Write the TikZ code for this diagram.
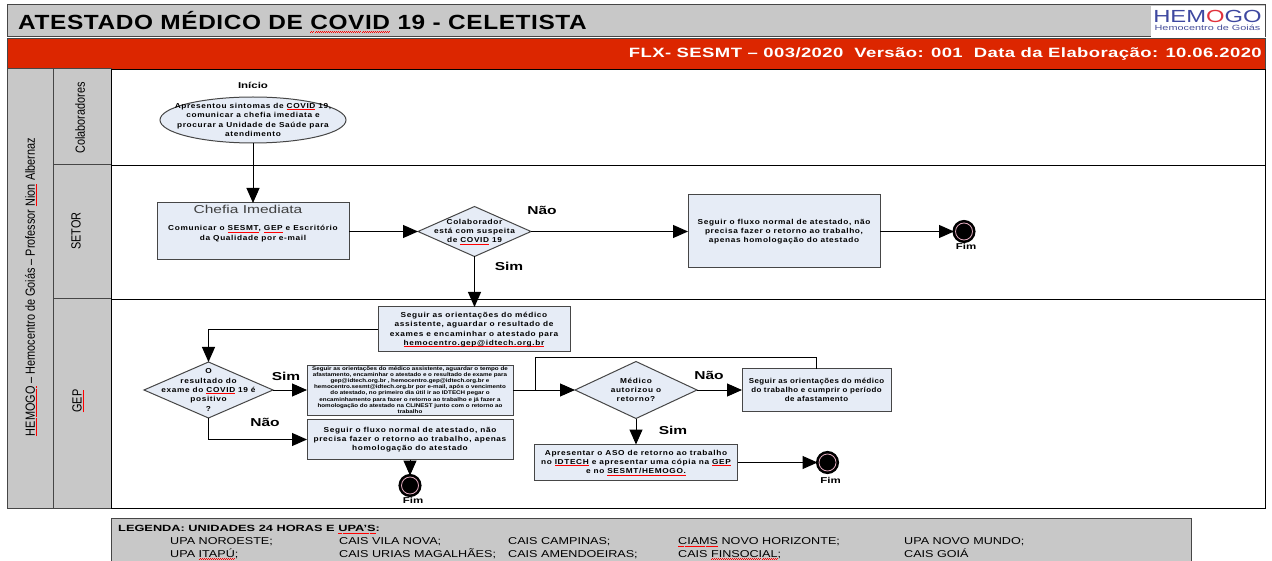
\documentclass[tikz,border=0pt]{standalone}
\usepackage{xcolor}
\usepackage{fontspec}
\setmainfont{Liberation Sans}
\newfontfamily\widefont[LetterSpace=9, FakeStretch=1.15]{Liberation Sans}
\newfontfamily\snugfont[LetterSpace=6, FakeStretch=1.1]{Liberation Sans}
\newfontfamily\notefont[FakeStretch=1.18]{Liberation Sans}
\newfontfamily\headfont[LetterSpace=3, FakeStretch=1.19]{Liberation Sans}
\newfontfamily\redfont[LetterSpace=3, FakeStretch=1.37]{Liberation Sans}
\newfontfamily\narrowfont[FakeStretch=0.82]{Liberation Sans}
\newfontfamily\legendfont[FakeStretch=1.26]{Liberation Sans}
\newfontfamily\legendhead[FakeStretch=1.42]{Liberation Sans}
\newfontfamily\labelfont[FakeStretch=1.35]{Liberation Sans}
\newfontfamily\logofont[FakeStretch=1.36]{Liberation Sans}
\newfontfamily\logosmall[FakeStretch=1.45]{Liberation Sans}
\definecolor{lanegray}{RGB}{200, 200, 200}
\definecolor{framegray}{RGB}{70, 70, 70}
\definecolor{headred}{RGB}{220, 38, 0}
\definecolor{boxblue}{RGB}{230, 236, 246}
\definecolor{logoblue}{RGB}{62, 72, 160}
\definecolor{logored}{RGB}{225, 50, 60}
\definecolor{ringpink}{RGB}{225, 170, 190}
\usetikzlibrary{shapes.geometric, arrows.meta, positioning}
\newsavebox{\spellbox}
\newcommand{\spellline}[1]{\sbox{\spellbox}{#1}\rlap{\textcolor{red}{\rule[-1.4pt]{\wd\spellbox}{0.6pt}}}\usebox{\spellbox}}
\newcommand{\spellwave}[1]{\sbox{\spellbox}{#1}\rlap{\textcolor{red}{\hbox to \wd\spellbox{\xleaders\hbox{\rule[-2.2pt]{1pt}{0.5pt}\rule[-1.6pt]{1pt}{0.5pt}}\hfill}}}\usebox{\spellbox}}
\begin{document}
\begin{tikzpicture}[
    x=1pt, y=-1pt,
    band/.style={rectangle, draw=framegray, fill=lanegray, line width=1pt, outer sep=0pt, inner sep=0pt},
    lanetext/.style={rotate=90, font=\narrowfont\fontsize{13.3}{15}\selectfont},
    lanebox/.style={rectangle, draw=black, line width=0.8pt, outer sep=0pt, inner sep=0pt},
    process/.style={rectangle, draw=framegray, fill=boxblue, line width=1pt, outer sep=0pt, inner sep=0pt, align=center, font=\widefont\bfseries\fontsize{7.2}{9.3}\selectfont},
    decision/.style={diamond, draw=framegray, fill=boxblue, line width=1pt, outer sep=0pt, inner sep=0pt},
    boxlabel/.style={align=center, font=\widefont\bfseries\fontsize{7.2}{9.3}\selectfont},
    choice/.style={font=\labelfont\bfseries\fontsize{11.5}{13}\selectfont},
    endpoint/.style={circle, draw=black, double=ringpink, double distance=0.8pt, line width=2.6pt, fill=black, minimum size=17pt, inner sep=0pt, outer sep=1.5pt},
    endtext/.style={font=\labelfont\bfseries\fontsize{8.5}{10}\selectfont, inner sep=0pt},
    legendtext/.style={anchor=base west, inner sep=0pt, font=\legendfont\fontsize{10}{12}\selectfont},
    arrow/.style={-{Triangle[length=15pt, width=13pt]}, line width=1pt, black},
    link/.style={line width=1pt, black}
]
    \useasboundingbox (0,0) rectangle (1272,561);

    % header
    \node[band, minimum width=1258pt, minimum height=32pt, anchor=north west] (titlebar) at (7,5) {};
    \node[anchor=west, inner sep=0pt, font=\headfont\bfseries\fontsize{20.5}{24}\selectfont] (title) at (18,22) {ATESTADO MÉDICO DE \spellwave{COVID} 19 - CELETISTA};
    \node[rectangle, fill=white, minimum width=114pt, minimum height=31pt, inner sep=0pt, anchor=north east] (logobox) at (1265,5.5) {};
    \node[inner sep=0pt, font=\logofont\fontsize{17.5}{18}\selectfont, text=logoblue] (logoname) at (1207.5,16.5) {HEM\textcolor{logored}{O}GO};
    \node[inner sep=0pt, font=\logosmall\fontsize{7.5}{8}\selectfont, text=logoblue!85!gray, below=2pt of logoname] (logotext) {Hemocentro de Goiás};
    \node[rectangle, draw=framegray, fill=headred, line width=1pt, minimum width=1258pt, minimum height=31pt, inner sep=0pt, anchor=north west] (redbar) at (7,38) {};
    \node[anchor=east, inner sep=0pt, text=white, font=\redfont\bfseries\fontsize{13.5}{16}\selectfont] (codeline) at (1262,54) {FLX- SESMT – 003/2020\ \ Versão: 001\ \ Data da Elaboração: 10.06.2020};

    % lanes
    \node[band, minimum width=46pt, minimum height=439pt, anchor=north west] (hemogo) at (7,69) {};
    \node[lanetext] (hemogotext) at (31,287) {\spellwave{HEMOGO} – Hemocentro de Goiás – Professor \spellwave{Nion} Albernaz};
    \node[band, minimum width=58pt, minimum height=96pt, anchor=north west] (colabhead) at (53,69) {};
    \node[band, minimum width=58pt, minimum height=134pt, anchor=north west] (setorhead) at (53,165) {};
    \node[band, minimum width=58pt, minimum height=209pt, anchor=north west] (gephead) at (53,299) {};
    \node[lanetext] at (80,118) (colabtext) {Colaboradores};
    \node[lanetext] at (76,231) (setortext) {SETOR};
    \node[lanetext] at (78,401) (geptext) {\spellwave{GEP}};
    \node[lanebox, minimum width=1154pt, minimum height=96pt, anchor=north west] (colablane) at (111,69) {};
    \node[lanebox, minimum width=1154pt, minimum height=134pt, anchor=north west] (setorlane) at (111,165) {};
    \node[lanebox, minimum width=1154pt, minimum height=209pt, anchor=north west] (geplane) at (111,299) {};

    % flow
    \node[decision, ellipse, minimum width=186pt, minimum height=46pt, label={[boxlabel]center:Apresentou sintomas de \spellline{COVID} 19,\\comunicar a chefia imediata e\\procurar a Unidade de Saúde para\\atendimento}] (start) at (253,120) {};
    \node[above=8pt of start, inner sep=0pt, font=\labelfont\bfseries\fontsize{8.5}{10}\selectfont] (starttext) {Início};
    \node[process, minimum width=192pt, minimum height=57pt] (chefia) at (253,231.5) {\mbox{}\\Comunicar o \spellline{SESMT}, \spellline{GEP} e Escritório\\da Qualidade por e-mail};
    \node[anchor=north, inner sep=0pt, font=\labelfont\fontsize{11.5}{13}\selectfont, text=black!75, yshift=-2pt] (chefiatext) at ([xshift=-5pt]chefia.north) {Chefia Imediata};
    \node[decision, minimum width=113pt, minimum height=50pt, right=69pt of chefia, label={[boxlabel]center:Colaborador\\está com suspeita\\de \spellline{COVID} 19}] (suspeita) {};
    \node[process, minimum width=192pt, minimum height=73pt, right=157pt of suspeita] (normal) {Seguir o fluxo normal de atestado, não\\precisa fazer o retorno ao trabalho,\\apenas homologação do atestado};
    \node[endpoint, right=74pt of normal] (fimsetor) {};
    \node[endtext, below=2pt of fimsetor, xshift=2pt] (fimsetortext) {Fim};
    \node[choice] (naoa) at (542,210) {Não};
    \node[choice] (sima) at (509,266) {Sim};

    \node[process, minimum width=192pt, minimum height=45pt] (orient) at (474,329.5) {Seguir as orientações do médico\\assistente, aguardar o resultado de\\exames e encaminhar o atestado para\\\spellline{hemocentro.gep@idtech.org.br}};
    \node[decision, minimum width=129pt, minimum height=56pt, label={[boxlabel]center:O\\resultado do\\exame do \spellline{COVID} 19 é\\positivo\\?}] (exame) at (208.5,390) {};
    \node[process, minimum width=206pt, minimum height=50pt, right=34pt of exame, font=\notefont\bfseries\fontsize{5.3}{6.1}\selectfont] (afasta) {Seguir as orientações do médico assistente, aguardar o tempo de\\afastamento, encaminhar o atestado e o resultado de exame para\\gep@idtech.org.br , hemocentro.gep@idtech.org.br e\\hemocentro.sesmt@idtech.org.br por e-mail, após o vencimento\\do atestado, no primeiro dia útil ir ao IDTECH pegar o\\encaminhamento para fazer o retorno ao trabalho e já fazer a\\homologação do atestado na CLINEST junto com o retorno ao\\trabalho};
    \node[process, minimum width=206pt, minimum height=40pt, below=4.5pt of afasta] (fluxo) {Seguir o fluxo normal de atestado, não\\precisa fazer o retorno ao trabalho, apenas\\homologação do atestado};
    \node[endpoint, below=16pt of fluxo] (fimfluxo) {};
    \node[endtext, below=2pt of fimfluxo, xshift=3pt] (fimfluxotext) {Fim};
    \node[decision, minimum width=122pt, minimum height=57pt, right=62pt of afasta, label={[boxlabel]center:Médico\\autorizou o\\retorno?}] (medico) {};
    \node[process, minimum width=149pt, minimum height=43pt, right=45pt of medico, font=\snugfont\bfseries\fontsize{7.2}{9.3}\selectfont] (trabalho) {Seguir as orientações do médico\\do trabalho e cumprir o período\\de afastamento};
    \node[process, minimum width=203pt, minimum height=36pt, below=26pt of medico] (retorno) {Apresentar o ASO de retorno ao trabalho\\no \spellline{IDTECH} e apresentar uma cópia na \spellline{GEP}\\e no \spellline{SESMT/HEMOGO.}};
    \node[endpoint, right=80pt of retorno] (fimretorno) {};
    \node[endtext, below=5pt of fimretorno, xshift=3pt] (fimretornotext) {Fim};
    \node[choice] (simb) at (286,376) {Sim};
    \node[choice] (naob) at (265,422) {Não};
    \node[choice] (naoc) at (709,375) {Não};
    \node[choice] (simc) at (673,430) {Sim};

    \coordinate (merge) at (535,390);
    \coordinate (loop) at (535,358);

    \draw[arrow] (start) -- (chefia);
    \draw[arrow] (chefia) -- (suspeita);
    \draw[arrow] (suspeita) -- (normal);
    \draw[arrow] (normal) -- (fimsetor);
    \draw[arrow] (suspeita) -- (suspeita |- orient.north);
    \draw[arrow] (orient.west) -| (exame.north);
    \draw[arrow] (exame) -- (afasta);
    \draw[arrow] (exame.south) |- (fluxo.west);
    \draw[arrow] (fluxo) -- (fimfluxo);
    \draw[arrow] (afasta) -- (medico);
    \draw[arrow] (medico) -- (trabalho);
    \draw[arrow] (medico) -- (retorno);
    \draw[arrow] (retorno) -- (fimretorno);
    \draw[link] (trabalho.north) |- (loop) -- (merge);

    % legend
    \fill[lanegray] (111,518) rectangle (1191,561);
    \draw[framegray, line width=1pt] (111,561) -- (111,518) -- (1191,518) -- (1191,561);
    \node[legendtext, font=\legendhead\bfseries\fontsize{9}{11}\selectfont] (legendtitle) at (118,531.5) {LEGENDA: UNIDADES 24 HORAS E \spellwave{UPA’S}:};
    \node[legendtext] (noroeste) at (170,544.5) {UPA NOROESTE;};
    \node[legendtext] (vilanova) at (339,544.5) {CAIS VILA NOVA;};
    \node[legendtext] (campinas) at (508,544.5) {CAIS CAMPINAS;};
    \node[legendtext] (ciams) at (678,544.5) {\spellwave{CIAMS} NOVO HORIZONTE;};
    \node[legendtext] (novomundo) at (904,544.5) {UPA NOVO MUNDO;};
    \node[legendtext] (itapu) at (170,557) {UPA \spellwave{ITAPÚ};};
    \node[legendtext] (urias) at (339,557) {CAIS URIAS MAGALHÃES;};
    \node[legendtext] (amendoeiras) at (508,557) {CAIS AMENDOEIRAS;};
    \node[legendtext] (finsocial) at (678,557) {CAIS \spellwave{FINSOCIAL};};
    \node[legendtext] (goia) at (904,557) {CAIS GOIÁ};
\end{tikzpicture}
\end{document}
